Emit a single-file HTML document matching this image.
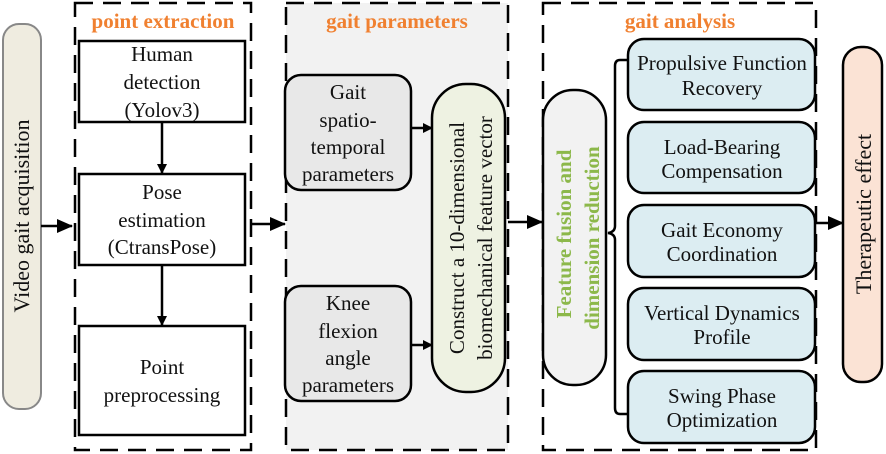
<!DOCTYPE html>
<html><head><style>body{margin:0;background:#fff}svg{display:block}svg text{font-family:"Liberation Serif","DejaVu Serif",serif;font-size:21px;fill:#111}svg text.t{fill:#f08030;font-weight:bold;font-size:21px}</style></head><body>
<svg width="886" height="454" viewBox="0 0 886 454" font-family="Liberation Serif, serif">
<defs><marker id="a" markerWidth="10" markerHeight="10" refX="9" refY="5" orient="auto" markerUnits="userSpaceOnUse"><path d="M0,0L10,5L0,10z" fill="#000"/></marker>
<marker id="b" markerWidth="16" markerHeight="14" refX="15" refY="7" orient="auto" markerUnits="userSpaceOnUse"><path d="M0,0L16,7L0,14z" fill="#000"/></marker></defs>
<rect x="286" y="3" width="222" height="447" fill="#f2f2f2"/>
<g fill="none" stroke="#000" stroke-width="2.5" stroke-dasharray="18,10">
<rect x="75" y="3" width="176" height="447"/>
<rect x="286" y="3" width="222" height="447"/>
<rect x="543" y="3" width="273" height="447"/>
</g>
<text class="t" x="163" y="28" text-anchor="middle">point extraction</text>
<text class="t" x="397" y="28" text-anchor="middle">gait parameters</text>
<text class="t" x="680" y="28" text-anchor="middle">gait analysis</text>
<rect x="3" y="24" width="38" height="385" rx="16" fill="#efece0" stroke="#888" stroke-width="2"/>
<text transform="translate(29,216) rotate(-90)" text-anchor="middle" style="font-size:22px">Video gait acquisition</text>
<g fill="#fff" stroke="#000" stroke-width="2.5">
<rect x="79" y="41" width="166" height="81"/><rect x="79" y="174" width="166" height="91"/><rect x="79" y="326" width="166" height="109"/>
</g>
<g text-anchor="middle"><text x="162" y="61">Human</text><text x="162" y="89">detection</text><text x="162" y="117">(Yolov3)</text>
<text x="162" y="199">Pose</text><text x="162" y="227">estimation</text><text x="162" y="254">(CtransPose)</text>
<text x="162" y="374">Point</text><text x="162" y="402">preprocessing</text></g>
<g stroke="#000" stroke-width="2.5">
<line x1="162" y1="122" x2="162" y2="173" marker-end="url(#a)"/>
<line x1="162" y1="265" x2="162" y2="325" marker-end="url(#a)"/>
<line x1="41" y1="226" x2="72" y2="226" marker-end="url(#b)"/>
<line x1="251" y1="224" x2="285" y2="224" marker-end="url(#b)"/>
<line x1="411" y1="128" x2="432" y2="128" marker-end="url(#a)"/>
<line x1="411" y1="345" x2="432" y2="345" marker-end="url(#a)"/>
<line x1="508" y1="222" x2="542" y2="222" marker-end="url(#b)"/>
<line x1="815" y1="223" x2="843" y2="223" marker-end="url(#b)"/>
</g>
<g stroke="#000" stroke-width="2.5">
<rect x="285" y="75" width="126" height="115" rx="16" fill="#e8e8e8"/>
<rect x="285" y="286" width="126" height="115" rx="16" fill="#e8e8e8"/>
<rect x="432" y="84" width="73" height="308" rx="34" fill="#eef2e2"/>
<rect x="543" y="90" width="63" height="295" rx="30" fill="#f2f2f2"/>
<rect x="843" y="47" width="39" height="335" rx="18" fill="#fbe3d5"/>
</g>
<g text-anchor="middle"><text x="348" y="99">Gait</text><text x="348" y="127">spatio-</text><text x="348" y="154">temporal</text><text x="348" y="181">parameters</text>
<text x="348" y="310">Knee</text><text x="348" y="338">flexion</text><text x="348" y="365">angle</text><text x="348" y="392">parameters</text></g>
<text transform="translate(464,238) rotate(-90)" text-anchor="middle">Construct a 10-dimensional</text>
<text transform="translate(492,238) rotate(-90)" text-anchor="middle">biomechanical feature vector</text>
<text transform="translate(571,234) rotate(-90)" text-anchor="middle" style="fill:#8cb84a;font-weight:bold">Feature fusion and</text>
<text transform="translate(599,238) rotate(-90)" text-anchor="middle" style="fill:#8cb84a;font-weight:bold">dimension reduction</text>
<text transform="translate(871,214) rotate(-90)" text-anchor="middle" style="font-size:22px">Therapeutic effect</text>
<path d="M628,60 H620 Q615,60 615,66 V226 Q615,232 608,233 Q615,234 615,240 V408 Q615,414 620,414 H628" fill="none" stroke="#000" stroke-width="2.5"/>
<g fill="#dcedf2" stroke="#000" stroke-width="2.5">
<rect x="628" y="39" width="187" height="71" rx="16"/><rect x="628" y="122" width="187" height="71" rx="16"/><rect x="628" y="205" width="187" height="72" rx="16"/><rect x="628" y="288" width="187" height="72" rx="16"/><rect x="628" y="371" width="187" height="72" rx="16"/>
</g>
<g text-anchor="middle"><text x="722" y="70">Propulsive Function</text><text x="722" y="95">Recovery</text>
<text x="722" y="154">Load-Bearing</text><text x="722" y="178">Compensation</text>
<text x="722" y="237">Gait Economy</text><text x="722" y="261">Coordination</text>
<text x="722" y="320">Vertical Dynamics</text><text x="722" y="344">Profile</text>
<text x="722" y="403">Swing Phase</text><text x="722" y="427">Optimization</text></g>
</svg></body></html>
